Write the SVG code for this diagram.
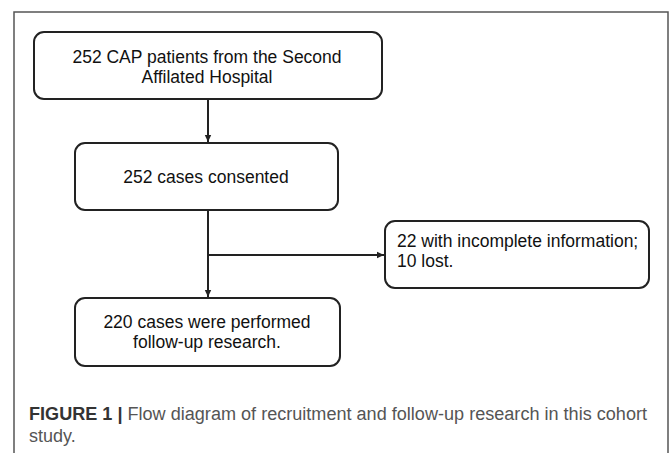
<svg xmlns="http://www.w3.org/2000/svg" width="669" height="453" viewBox="0 0 669 453">
<style>
.box{fill:#fff;stroke:#222;stroke-width:2}
.t{font-family:"Liberation Sans",Arial,sans-serif;font-size:17.5px;fill:#111}
.c{font-family:"Liberation Sans",Arial,sans-serif;font-size:18px;fill:#555}
.cb{font-weight:bold;fill:#333}
.ln{stroke:#222;stroke-width:2;fill:none}
</style>
<defs>
<marker id="ah" markerWidth="8" markerHeight="8" refX="7" refY="4" orient="auto" markerUnits="userSpaceOnUse">
<path d="M0,0.8 L7,4 L0,7.2 Z" fill="#222"/>
</marker>
</defs>
<rect width="669" height="453" fill="#fff"/>
<path d="M14,470 V12 H668 V470" fill="none" stroke="#555" stroke-width="1.5"/>
<g id="connectors">
<line class="ln" x1="208" y1="100" x2="208" y2="142" marker-end="url(#ah)"/>
<line class="ln" x1="208" y1="211" x2="208" y2="297" marker-end="url(#ah)"/>
<line class="ln" x1="208" y1="255" x2="384" y2="255" marker-end="url(#ah)"/>
</g>
<g id="n1">
<rect class="box" x="34" y="32" width="348" height="67" rx="10"/>
<text class="t" x="207" y="63" text-anchor="middle">252 CAP patients from the Second</text>
<text class="t" x="207" y="83" text-anchor="middle">Affilated Hospital</text>
</g>
<g id="n2">
<rect class="box" x="75" y="143" width="263" height="67" rx="10"/>
<text class="t" x="206" y="183" text-anchor="middle">252 cases consented</text>
</g>
<g id="n3">
<rect class="box" x="385" y="221" width="264" height="67" rx="10"/>
<text class="t" x="397" y="247">22 with incomplete information;</text>
<text class="t" x="397" y="267">10 lost.</text>
</g>
<g id="n4">
<rect class="box" x="75" y="298" width="265" height="68" rx="10"/>
<text class="t" x="207" y="328" text-anchor="middle">220 cases were performed</text>
<text class="t" x="207" y="348" text-anchor="middle">follow-up research.</text>
</g>
<g id="caption">
<text class="c" x="29" y="420" textLength="618" lengthAdjust="spacingAndGlyphs"><tspan class="cb">FIGURE 1 |</tspan> Flow diagram of recruitment and follow-up research in this cohort</text>
<text class="c" x="29" y="442">study.</text>
</g>
</svg>
